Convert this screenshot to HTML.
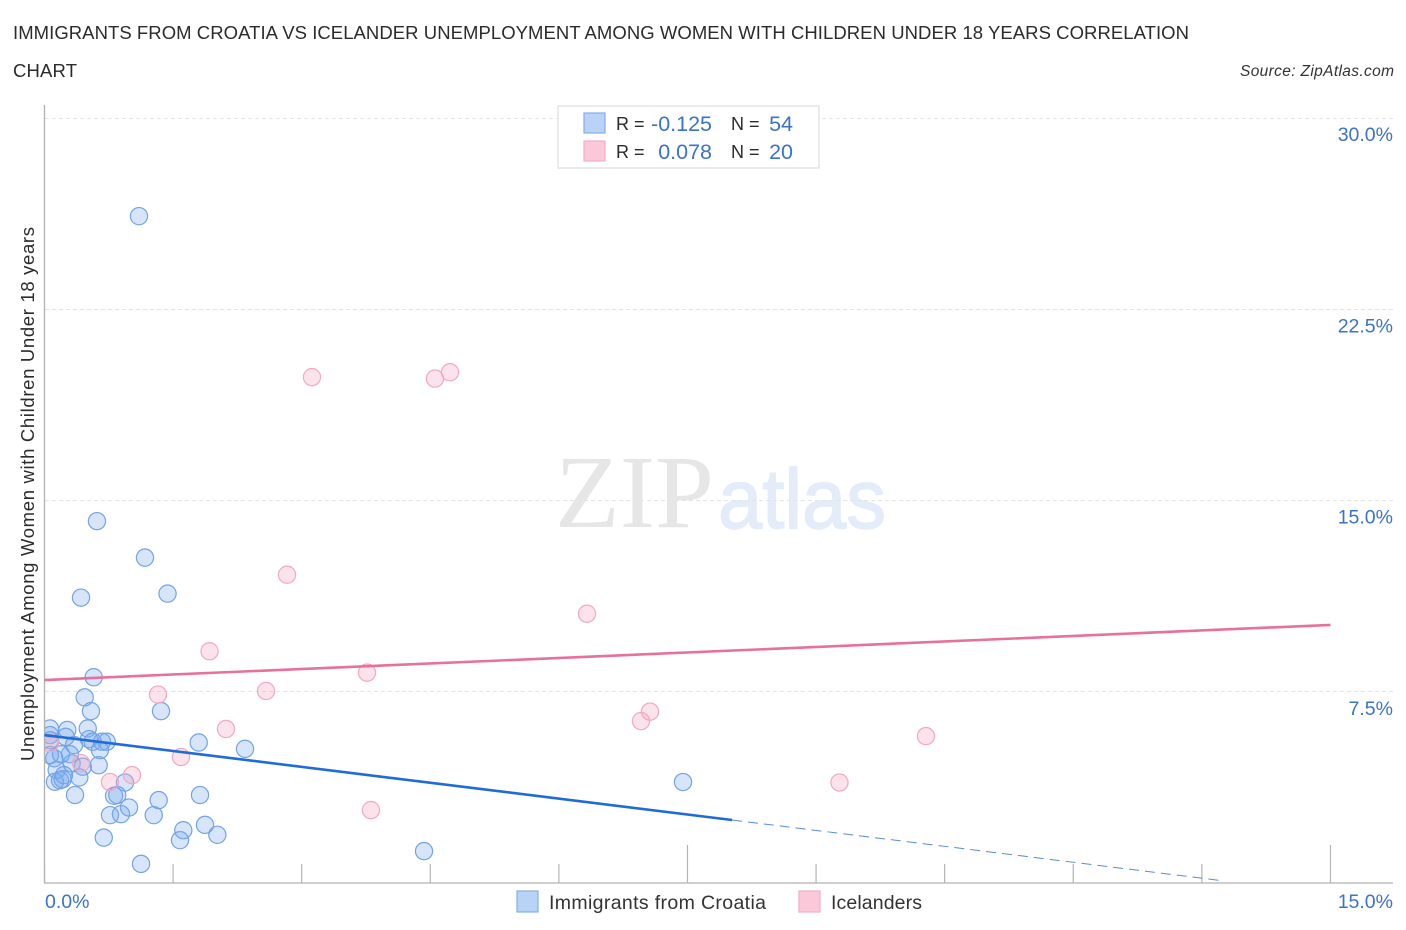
<!DOCTYPE html>
<html lang="en">
<head>
<meta charset="utf-8">
<title>Immigrants from Croatia vs Icelander Unemployment Correlation Chart</title>
<style>
html,body{margin:0;padding:0;background:#fff;}
body{width:1406px;height:930px;overflow:hidden;}
svg{display:block;font-family:"Liberation Sans",sans-serif;}
</style>
</head>
<body>
<svg id="chart" xmlns="http://www.w3.org/2000/svg" width="1406" height="930" viewBox="0 0 1406 930">
  <defs>
    <clipPath id="plot-clip"><rect x="45" y="100" width="1350" height="783"/></clipPath>
  </defs>
  <text x="13" y="39" font-size="18.5" fill="#2b2b2b" textLength="1176" lengthAdjust="spacing">IMMIGRANTS FROM CROATIA VS ICELANDER UNEMPLOYMENT AMONG WOMEN WITH CHILDREN UNDER 18 YEARS CORRELATION</text>
  <text x="13" y="77" font-size="18.5" fill="#2b2b2b" textLength="64" lengthAdjust="spacing">CHART</text>
  <text x="1394" y="76" font-size="15.5" font-style="italic" fill="#333" text-anchor="end" textLength="154" lengthAdjust="spacing">Source: ZipAtlas.com</text>

  <g id="watermark">
    <text x="555" y="527" font-family="'Liberation Serif',serif" font-size="104" fill="#e6e6e6" textLength="159" lengthAdjust="spacingAndGlyphs">ZIP</text>
    <text x="718" y="528" font-size="84" fill="#e3ecf8" stroke="#e3ecf8" stroke-width="1.5" textLength="168" lengthAdjust="spacingAndGlyphs">atlas</text>
  </g>

  <g id="grid"></g>
  <g id="axes"></g>
  <g id="series-blue" clip-path="url(#plot-clip)"></g>
  <g id="series-pink" clip-path="url(#plot-clip)"></g>
  <g id="trends"></g>

  <g>
    <rect x="558" y="106" width="261" height="62" fill="#fff" stroke="#e0e0e0" stroke-width="1.3"/>
    <rect x="584" y="113" width="21" height="20" fill="#b9d3f6" stroke="#85aee6" stroke-width="1.2"/>
    <rect x="584" y="141" width="21" height="20" fill="#fbc8d9" stroke="#f3aec5" stroke-width="1.2"/>
    <g fill="#2b2b2b" font-size="18">
      <text x="616" y="130">R =</text>
      <text x="731" y="130">N =</text>
      <text x="616" y="158">R =</text>
      <text x="731" y="158">N =</text>
    </g>
    <g font-size="21.5" fill="#3a72cc">
      <text x="712" y="131" text-anchor="end">-0.125</text>
      <text x="793" y="131" text-anchor="end">54</text>
      <text x="712" y="159" text-anchor="end">0.078</text>
      <text x="793" y="159" text-anchor="end">20</text>
    </g>
  </g>

  <g>
    <rect x="517" y="891" width="21" height="21" fill="#b9d3f6" stroke="#85aee6" stroke-width="1.2"/>
    <text x="549" y="909" font-size="19.5" fill="#333" textLength="217" lengthAdjust="spacing">Immigrants from Croatia</text>
    <rect x="799" y="891" width="21" height="21" fill="#fbc8d9" stroke="#f3aec5" stroke-width="1.2"/>
    <text x="831" y="909" font-size="19.5" fill="#333" textLength="91" lengthAdjust="spacing">Icelanders</text>
  </g>

  <text transform="translate(34,494) rotate(-90)" font-size="18.5" fill="#2b2b2b" text-anchor="middle" textLength="534" lengthAdjust="spacing">Unemployment Among Women with Children Under 18 years</text>
</svg>
<script>
const croatiaX = [0.574,0.469,0.542,1.359,1.799,2.339,0.504,0.266,0.064,0.064,0.247,0.519,0.344,0.562,0.671,0.726,0.647,0.632,0.064,0.114,0.192,0.297,0.317,0.446,0.406,0.142,0.122,0.181,0.212,0.356,0.939,0.811,0.849,0.986,0.764,0.892,1.332,1.274,1.814,1.872,1.619,1.581,2.016,0.691,1.126,1.102,0.612,1.172,1.435,0.426,7.448,4.427,0.064,0.227];
const croatiaY = [8.07,7.28,6.74,6.74,5.51,5.26,6.06,6.00,6.06,5.80,5.73,5.64,5.41,5.54,5.54,5.54,5.21,4.62,5.60,4.89,5.05,5.05,4.69,4.56,4.14,4.43,3.97,4.03,4.07,3.45,3.94,3.42,3.45,2.96,2.66,2.70,3.25,2.66,3.45,2.28,2.07,1.68,1.89,1.78,0.75,26.15,14.19,12.76,11.35,11.19,3.96,1.25,5.02,4.23];
const icelandersX = [3.120,4.555,4.730,2.829,6.328,1.925,3.762,1.324,2.584,7.063,6.958,2.117,10.282,1.592,1.021,0.764,9.273,3.808,0.064,0.426];
const icelandersY = [19.84,19.78,20.03,12.09,10.56,9.09,8.25,7.39,7.53,6.72,6.35,6.04,5.76,4.94,4.23,3.96,3.94,2.86,5.49,4.70];
const croatiaTrendX = [0,8.02,13.76];
const croatiaTrendY = [5.80,2.47,0.08];
const icelandersTrendX = [0,15];
const icelandersTrendY = [7.96,10.12];
const yTicks = [30,22.5,15,7.5];
const yTickLabels = ["30.0%","22.5%","15.0%","7.5%"];
const xMinorTicks = [0,1.5,3,4.5,6,9,10.5,12,13.5];
const xMajorTicks = [7.5,15];
const xEndLabels = ["0.0%","15.0%"];

const NS = "http://www.w3.org/2000/svg";
const xScale = v => 44.5 + v * 85.73;
const yScale = v => 883 - v * 25.5;
function mk(tag, parent, attrs, text) {
  const el = document.createElementNS(NS, tag);
  for (const k in attrs) el.setAttribute(k, attrs[k]);
  if (text !== undefined) el.textContent = text;
  parent.appendChild(el);
  return el;
}
const grid = document.getElementById("grid");
const axes = document.getElementById("axes");
const blue = document.getElementById("series-blue");
const pink = document.getElementById("series-pink");
const trends = document.getElementById("trends");

yTicks.forEach((v, i) => {
  const y = Math.floor(yScale(v)) + 0.5;
  const line = mk("line", grid, {x1: 45, x2: 1393, y1: y, y2: y, stroke: "#e4e4e4", "stroke-width": 1, "stroke-dasharray": "4 3"});
  
  
  const label = mk("text", axes, {x: 1393, y: yScale(v) + 23, "font-size": 19.5, fill: "#3a72cc", "text-anchor": "end"}, yTickLabels[i]);
  
  
});

const yAxis = mk("line", axes, {x1: 44.5, x2: 44.5, y1: 105, y2: 883, stroke: "#b0b0b0", "stroke-width": 1.3});


const xAxis = mk("line", axes, {x1: 44, x2: 1393, y1: 883, y2: 883, stroke: "#bdbdbd", "stroke-width": 1.5});



xMinorTicks.forEach(v => {
  const t = mk("line", axes, {x1: xScale(v), x2: xScale(v), y1: 864, y2: 883, stroke: "#b4b4b4", "stroke-width": 1.2});
  
  
});
xMajorTicks.forEach(v => {
  const t = mk("line", axes, {x1: xScale(v), x2: xScale(v), y1: 845, y2: 883, stroke: "#b4b4b4", "stroke-width": 1.2});
  
  
});
const xLeft = mk("text", axes, {x: 45, y: 908, "font-size": 19.5, fill: "#3a72cc"}, xEndLabels[0]);


const xRight = mk("text", axes, {x: 1393, y: 908, "font-size": 19.5, fill: "#3a72cc", "text-anchor": "end"}, xEndLabels[1]);



croatiaX.forEach((v, i) => {
  const c = mk("circle", blue, {cx: xScale(v), cy: yScale(croatiaY[i]), r: 8.6, fill: "rgba(120,170,240,0.3)", stroke: "#74a3e6", "stroke-width": 1.2});
  
  
});
icelandersX.forEach((v, i) => {
  const c = mk("circle", pink, {cx: xScale(v), cy: yScale(icelandersY[i]), r: 8.6, fill: "rgba(245,165,190,0.32)", stroke: "#f2a9c0", "stroke-width": 1.2});
  
  
});

const solid = mk("line", trends, {x1: xScale(croatiaTrendX[0]), y1: yScale(croatiaTrendY[0]), x2: xScale(croatiaTrendX[1]), y2: yScale(croatiaTrendY[1]), stroke: "#1f6bd8", "stroke-width": 2.6});


const dashed = mk("line", trends, {x1: xScale(croatiaTrendX[1]), y1: yScale(croatiaTrendY[1]), x2: xScale(croatiaTrendX[2]), y2: yScale(croatiaTrendY[2]), stroke: "#5a8bdc", "stroke-width": 1, "stroke-dasharray": "10 6"});


const pinkLine = mk("line", trends, {x1: xScale(icelandersTrendX[0]), y1: yScale(icelandersTrendY[0]), x2: xScale(icelandersTrendX[1]), y2: yScale(icelandersTrendY[1]), stroke: "#e8709c", "stroke-width": 2.6});


</script>
</body>
</html>
